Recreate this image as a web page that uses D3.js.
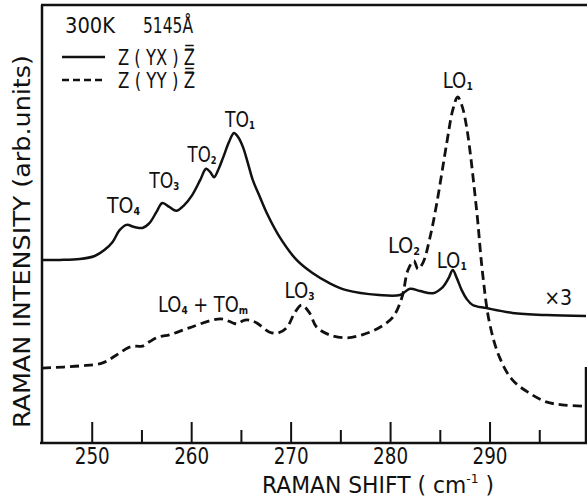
<!DOCTYPE html>
<html><head><meta charset="utf-8">
<script src="https://cdn.jsdelivr.net/npm/d3@7/dist/d3.min.js"></script>
<style>
html,body{margin:0;padding:0;background:#fff;}
svg text{font-family:"DejaVu Sans Condensed","DejaVu Sans",sans-serif;fill:#111;}
</style></head>
<body>
<svg id="c" width="587" height="498"></svg>
<script>
// Raman shift (cm^-1) and intensity (arb. units)
const yxShift = [245.0,246.8,248.8,250.3,251.3,252.1,252.8,253.5,254.3,255.1,255.8,256.5,257.1,257.8,258.5,259.3,260.1,260.9,261.5,261.9,262.3,262.8,263.2,263.8,264.3,264.7,265.2,265.7,266.2,266.9,267.6,268.9,270.6,272.2,273.9,275.6,278.9,281.0,282.0,283.0,284.3,285.3,285.9,286.3,286.7,287.2,287.7,288.3,289.7,292.3,295.7,299.7];
const yxInt   = [41.8,41.8,42.0,42.7,44.1,45.9,48.6,49.8,49.3,49.1,50.2,52.7,54.8,53.9,53.0,54.3,56.6,60.0,62.6,61.9,60.7,62.8,65.1,68.7,70.8,69.9,67.6,63.9,60.0,56.2,52.5,47.0,41.8,38.8,36.5,34.9,33.8,33.8,35.2,34.7,34.2,35.6,37.7,39.5,37.7,34.9,32.9,31.5,30.8,29.7,29.2,29.0];
const yyShift = [245.0,248.8,251.1,252.5,253.8,254.5,255.1,255.8,256.5,257.1,257.8,259.8,262.2,263.2,264.2,264.7,265.2,265.6,266.1,266.6,267.9,268.7,269.6,270.4,271.1,271.9,272.6,273.9,275.6,277.2,278.9,280.3,281.2,281.8,282.4,282.8,283.3,284.0,284.7,285.7,286.3,286.8,287.2,287.7,288.7,289.3,290.0,291.0,292.3,294.0,295.7,297.3,299.7];
const yyInt   = [17.1,17.6,18.3,20.1,21.9,22.1,22.1,23.1,24.0,24.4,24.7,26.3,28.1,28.3,27.4,27.2,27.9,28.1,27.9,27.4,25.3,25.1,26.3,29.7,31.5,29.7,26.5,24.7,24.0,24.7,26.3,28.8,33.3,39.5,41.6,39.7,41.1,46.8,54.8,68.5,76.0,79.0,77.2,72.1,53.2,38.8,27.4,19.6,14.4,11.4,9.4,8.7,8.4];
const majorTicks = [250,260,270,280,290];
const minorTicks = [255,265,275,285,295];
// peak labels
const peakText  = ["TO","TO","TO","TO","LO","LO","LO","LO"];
const peakSub   = ["1","2","3","4","1","2","1","3"];
const peakShift = [264.9,261.1,257.3,253.2,286.8,281.4,286.2,270.9];
const peakInt   = [72.1,64.2,58.2,52.5,81.1,43.4,40.0,33.1];

const svg = d3.select("#c");
const L=42, R=586, T=5, B=443;
const x = d3.scaleLinear().domain([245,299.7]).range([L,R]);
const y = d3.scaleLinear().domain([0,100]).range([B,T]);
const INK="#111";

// frame
const fr = svg.append("g").attr("stroke",INK).attr("stroke-width",2.5).attr("fill","none");
fr.append("line").attr("x1",L).attr("x2",L).attr("y1",T).attr("y2",B+1);
fr.append("line").attr("x1",L-1).attr("x2",587).attr("y1",T).attr("y2",T);
fr.append("line").attr("x1",R).attr("x2",R).attr("y1",367).attr("y2",B+1);

// x axis
const ax = svg.append("g").attr("transform",`translate(0,${B})`)
  .call(d3.axisBottom(x).tickValues(majorTicks).tickSize(-21).tickFormat(d3.format("d")));
ax.select(".domain").remove();
ax.selectAll(".tick line").attr("stroke",INK).attr("stroke-width",2);
ax.selectAll(".tick text").attr("y",21).attr("dy",0).attr("font-size",23)
  .attr("textLength",35).attr("lengthAdjust","spacingAndGlyphs")
  .attr("font-family",'"DejaVu Sans Condensed","DejaVu Sans",sans-serif').attr("fill",INK);
const ax2 = svg.append("g").attr("transform",`translate(0,${B})`)
  .call(d3.axisBottom(x).tickValues(minorTicks).tickSize(-13).tickFormat(""));
ax2.select(".domain").remove();
ax2.selectAll(".tick line").attr("stroke",INK).attr("stroke-width",2);
svg.append("line").attr("x1",L-2).attr("x2",R+1).attr("y1",B).attr("y2",B).attr("stroke",INK).attr("stroke-width",2.5);

// curves
const line = d3.line().x(d=>x(d[0])).y(d=>y(d[1])).curve(d3.curveCatmullRom.alpha(0.5));
svg.append("path").datum(yxShift.map((s,i)=>[s,yxInt[i]]))
  .attr("d",line).attr("fill","none").attr("stroke",INK).attr("stroke-width",2.5);
svg.append("path").datum(yyShift.map((s,i)=>[s,yyInt[i]]))
  .attr("d",line).attr("fill","none").attr("stroke",INK).attr("stroke-width",2.8)
  .attr("stroke-dasharray","9,5");

function label(px,py,parts,len,anchor){
  const t = svg.append("text").attr("x",px).attr("y",py).attr("text-anchor",anchor||"middle")
    .attr("font-size",22);
  parts.forEach(p=>{
    const s=t.append("tspan").text(p[0]);
    if(p[1]==="sub") s.attr("font-size",11).attr("font-weight","bold").attr("dy",2);
    if(p[1]==="up") s.attr("dy",-2);
  });
  if(len) t.attr("textLength",len).attr("lengthAdjust","spacingAndGlyphs");
  return t;
}
const peakLen=[30,29,30,33,30,32,30,30];
peakText.forEach((t,i)=>{
  label(x(peakShift[i]),y(peakInt[i]),[[t],[peakSub[i],"sub"]],peakLen[i]);
});
label(x(261.2),y(29.9),[["LO"],["4","sub"],[" + TO","up"],["m","sub"]],90);
label(x(296.9),y(31.5),[["×3"]],28);

// legend
label(65,33,[["300K"]],50,"start");
label(143,33,[["5145Å"]],50,"start");
svg.append("line").attr("x1",62).attr("x2",105).attr("y1",57).attr("y2",57).attr("stroke",INK).attr("stroke-width",2.5);
svg.append("line").attr("x1",62).attr("x2",105).attr("y1",80).attr("y2",80).attr("stroke",INK).attr("stroke-width",2.5).attr("stroke-dasharray","7,4");
label(118,65,[["Z ( YX ) Z\u033F"]],77,"start");
label(118,88,[["Z ( YY ) Z\u033F"]],77,"start");

// axis titles
const xt = svg.append("text").attr("x",262).attr("y",493).attr("font-size",23)
  .attr("textLength",232).attr("lengthAdjust","spacingAndGlyphs");
xt.append("tspan").text("RAMAN SHIFT  ( cm");
xt.append("tspan").attr("font-size",13).attr("dy",-10).text("-1");
xt.append("tspan").attr("dy",10).text(" )");
svg.append("text").attr("transform","translate(30,428) rotate(-90)").attr("font-size",23)
  .attr("textLength",373).attr("lengthAdjust","spacingAndGlyphs")
  .text("RAMAN  INTENSITY   (arb.units)");
</script>
</body></html>
